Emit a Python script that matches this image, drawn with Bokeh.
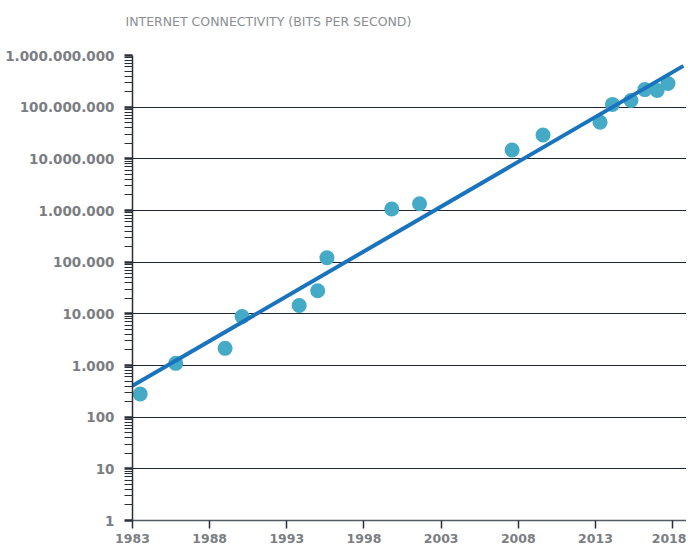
from bokeh.plotting import figure
from bokeh.models import FixedTicker, CustomJSTickFormatter, Title, Range1d
from bokeh.embed import file_html
from bokeh.resources import INLINE

# Data
years = [1983.5, 1985.8, 1989.0, 1990.1, 1993.8, 1995.0, 1995.6, 1999.8, 2001.6,
         2007.6, 2009.6, 2013.3, 2014.1, 2015.3, 2016.2, 2017.0, 2017.7]
bps = [280, 1100, 2150, 8900, 14500, 28000, 122000, 1070000, 1350000,
       14800000, 29000000, 51000000, 113000000, 135000000, 219000000, 210000000, 288000000]

trend_years = [1983.0, 2018.7]
trend_bps = [405, 630000000]

x_ticks = [1983, 1988, 1993, 1998, 2003, 2008, 2013, 2018]
y_major = [10 ** k for k in range(0, 10)]
y_minor = [m * 10 ** k for k in range(0, 9) for m in range(2, 10)]

TITLE = "INTERNET CONNECTIVITY (BITS PER SECOND)"

p = figure(width=686, height=545, y_axis_type="log",
           x_range=Range1d(1983, 2018.9), y_range=Range1d(1, 1e9),
           output_backend="svg", toolbar_location=None,
           min_border_left=132, min_border_right=0, min_border_top=55,
           min_border_bottom=10)

p.outline_line_color = None
p.background_fill_color = "white"

# spacer (nearest the frame) and title (outer)
spacer = Title(text=" ", standoff=1, text_font="DejaVu Sans", text_font_size="12px")
p.add_layout(spacer, "above")
t = Title(text=TITLE, align="left", offset=-7, standoff=20,
          text_font="DejaVu Sans", text_font_size="12.5px",
          text_font_style="normal", text_color="#8b8e93")
p.add_layout(t, "above")

# grid
p.xgrid.grid_line_color = None
p.ygrid.grid_line_color = "#1f2533"
p.ygrid.grid_line_width = 1
p.ygrid.ticker = FixedTicker(ticks=y_major)

# y axis
p.yaxis.ticker = FixedTicker(ticks=y_major, minor_ticks=y_minor)
p.yaxis.formatter = CustomJSTickFormatter(code="""
    return Math.round(tick).toString().replace(/\\B(?=(\\d{3})+(?!\\d))/g, ".");
""")
p.yaxis.axis_line_color = "#2a2f3a"
p.yaxis.axis_line_width = 1.5
p.yaxis.major_tick_line_color = "#2a2f3a"
p.yaxis.major_tick_line_width = 2.5
p.yaxis.major_tick_in = 0
p.yaxis.major_tick_out = 8
p.yaxis.minor_tick_line_color = "#2a2f3a"
p.yaxis.minor_tick_line_width = 1
p.yaxis.minor_tick_in = 0
p.yaxis.minor_tick_out = 8
p.yaxis.major_label_standoff = 10
p.yaxis.major_label_text_font = "DejaVu Sans"
p.yaxis.major_label_text_font_style = "bold"
p.yaxis.major_label_text_font_size = "13.5px"
p.yaxis.major_label_text_color = "#7b7e83"

# x axis
p.xaxis.ticker = FixedTicker(ticks=x_ticks, minor_ticks=[])
p.xaxis.axis_line_color = "#555a63"
p.xaxis.axis_line_width = 1.5
p.xaxis.major_tick_line_color = "#2a2f3a"
p.xaxis.major_tick_line_width = 1.5
p.xaxis.major_tick_in = 0
p.xaxis.major_tick_out = 8
p.xaxis.minor_tick_line_color = None
p.xaxis.major_label_standoff = 5
p.xaxis.major_label_text_font = "DejaVu Sans"
p.xaxis.major_label_text_font_style = "bold"
p.xaxis.major_label_text_font_size = "12.5px"
p.xaxis.major_label_text_color = "#7b7e83"

# data
p.scatter(years, bps, size=15, color="#45aac6", line_color=None)
p.line(trend_years, trend_bps, line_width=4, line_color="#1a74bd")

open("out.html", "w").write(file_html(p, INLINE))
